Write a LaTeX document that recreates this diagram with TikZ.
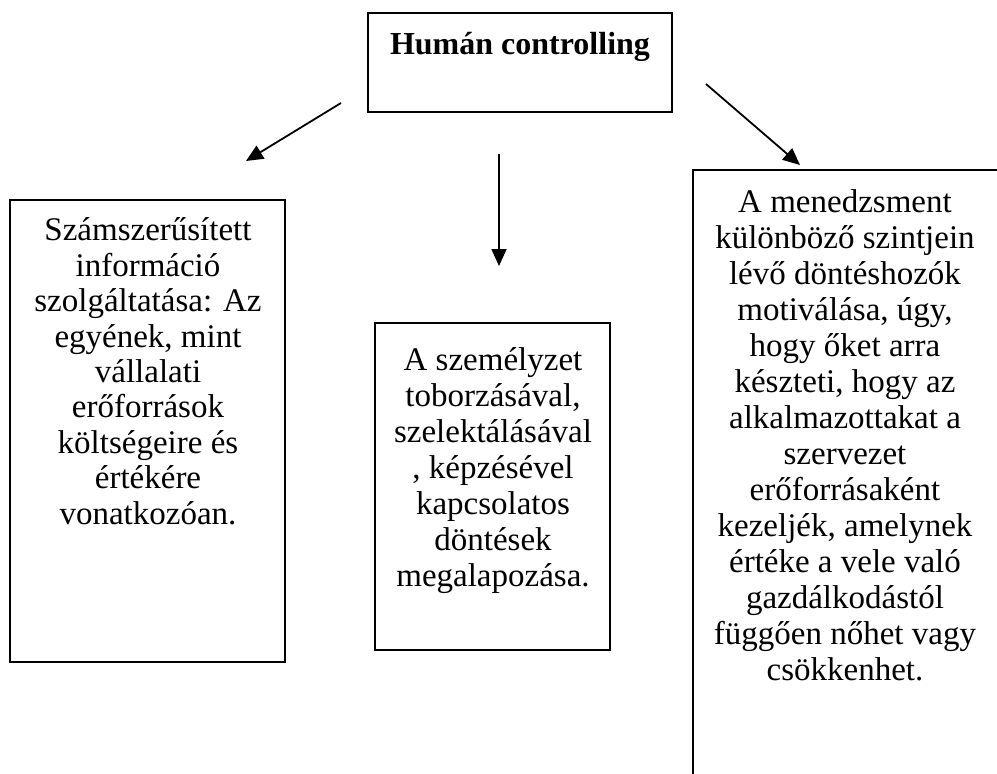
\documentclass[tikz,border=0pt]{standalone}
\usepackage{fontspec}
\setmainfont{Liberation Serif}
\usetikzlibrary{arrows.meta}
\begin{document}
\begin{tikzpicture}[x=1pt, y=-1pt,
  boxnode/.style={draw=black, line width=1.5pt, rectangle, inner sep=0pt, outer sep=0pt, anchor=north west},
  bodytext/.style={anchor=north, inner sep=0pt, align=center, font=\fontsize{33}{36}\selectfont},
  lefttextstyle/.style={anchor=north, inner sep=0pt, align=center, font=\fontsize{33}{35.4}\selectfont},
  titletext/.style={anchor=north, inner sep=0pt, align=center, font=\fontsize{32}{36}\selectfont\bfseries},
  pointer/.style={line width=1.8pt, -{Triangle[length=17pt, width=15pt]}}]
\useasboundingbox (0,0) rectangle (997,774);
\fill[white] (0,0) rectangle (997,774);

% boxes
\node[boxnode, minimum width=304pt, minimum height=99pt] (top) at (368,13) {};
\node[boxnode, minimum width=275pt, minimum height=462pt] (left) at (10,200) {};
\node[boxnode, minimum width=235pt, minimum height=327pt] (mid) at (375,323) {};
\node[boxnode, minimum width=310pt, minimum height=640pt] (right) at (693,170) {};

% texts
\node[titletext] (toptext) at (520,29) {\strut Humán controlling};
\node[lefttextstyle] (lefttext) at (148,216) {\strut Számszerűsített\\ információ\\ szolgáltatása: Az\\ egyének, mint\\ vállalati\\ erőforrások\\ költségeire és\\ értékére\\ vonatkozóan.};
\node[bodytext] (midtext) at (493,345) {\strut A személyzet\\ toborzásával,\\ szelektálásával\\ , képzésével\\ kapcsolatos\\ döntések\\ megalapozása.};
\node[bodytext] (righttext) at (845,187) {\strut A menedzsment\\ különböző szintjein\\ lévő döntéshozók\\ motiválása, úgy,\\ hogy őket arra\\ készteti, hogy az\\ alkalmazottakat a\\ szervezet\\ erőforrásaként\\ kezeljék, amelynek\\ értéke a vele való\\ gazdálkodástól\\ függően nőhet vagy\\ csökkenhet.};

% arrow ends
\coordinate (aLs) at (341,103);
\coordinate (aLe) at (246,161);
\coordinate (aMs) at (499,154);
\coordinate (aMe) at (499,266);
\coordinate (aRs) at (706,84);
\coordinate (aRe) at (800,165);

\draw[pointer] (aLs) -- (aLe);
\draw[pointer] (aMs) -- (aMe);
\draw[pointer] (aRs) -- (aRe);
\end{tikzpicture}
\end{document}
